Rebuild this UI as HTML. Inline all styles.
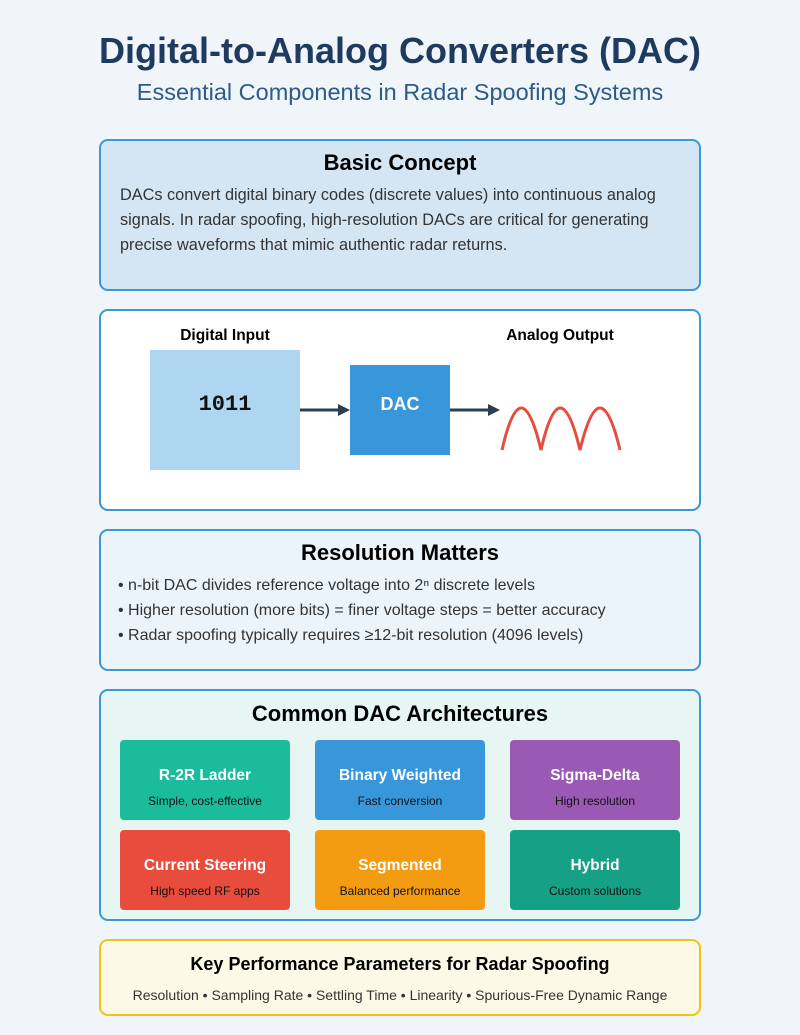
<!DOCTYPE html>
<html><head><meta charset="utf-8"><style>body{margin:0;background:#f0f5fa}svg{display:block}</style></head><body>
<svg width="800" height="1035" xmlns="http://www.w3.org/2000/svg" font-family="Liberation Sans, sans-serif">
<rect width="800" height="1035" fill="#f0f5fa"/>
<text x="400" y="63" text-anchor="middle" font-size="36" font-weight="bold" fill="#1e3a5f">Digital-to-Analog Converters (DAC)</text>
<text x="400" y="100" text-anchor="middle" font-size="23.5" fill="#2c5a8c">Essential Components in Radar Spoofing Systems</text>

<rect x="100" y="140" width="600" height="150" rx="8" fill="#d4e6f3" stroke="#3a97d8" stroke-width="2"/>
<text x="400" y="170" text-anchor="middle" font-size="22" font-weight="bold" fill="#000">Basic Concept</text>
<text font-size="16.3" fill="#333"><tspan x="120" y="200">DACs convert digital binary codes (discrete values) into continuous analog</tspan><tspan x="120" y="225">signals. In radar spoofing, high-resolution DACs are critical for generating</tspan><tspan x="120" y="250">precise waveforms that mimic authentic radar returns.</tspan></text>

<rect x="100" y="310" width="600" height="200" rx="8" fill="#fff" stroke="#3a97d8" stroke-width="2"/>
<text x="225" y="340" text-anchor="middle" font-size="15.5" font-weight="bold">Digital Input</text>
<text x="560" y="340" text-anchor="middle" font-size="15.5" font-weight="bold">Analog Output</text>
<rect x="150" y="350" width="150" height="120" fill="#aed6f1"/>
<text x="225" y="410" text-anchor="middle" font-size="22" font-weight="bold" font-family="Liberation Mono, monospace" fill="#111">1011</text>
<rect x="350" y="365" width="100" height="90" fill="#3897db"/>
<text x="400" y="410" text-anchor="middle" font-size="18" font-weight="bold" fill="#fff">DAC</text>
<line x1="300" y1="410" x2="340" y2="410" stroke="#2c3e50" stroke-width="3"/>
<polygon points="338,404 350,410 338,416" fill="#2c3e50"/>
<line x1="450" y1="410" x2="490" y2="410" stroke="#2c3e50" stroke-width="3"/>
<polygon points="488,404 500,410 488,416" fill="#2c3e50"/>
<path d="M502,450 Q521,366 541,450 Q560,366 580,450 Q600,366 620,450" fill="none" stroke="#e74c3c" stroke-width="3"/>

<rect x="100" y="530" width="600" height="140" rx="8" fill="#ebf4fb" stroke="#3a97d8" stroke-width="2"/>
<text x="400" y="560" text-anchor="middle" font-size="22" font-weight="bold">Resolution Matters</text>
<text font-size="16" fill="#333"><tspan x="118" y="590">• n-bit DAC divides reference voltage into 2ⁿ discrete levels</tspan><tspan x="118" y="615">• Higher resolution (more bits) = finer voltage steps = better accuracy</tspan><tspan x="118" y="640">• Radar spoofing typically requires ≥12-bit resolution (4096 levels)</tspan></text>

<rect x="100" y="690" width="600" height="230" rx="8" fill="#e8f6f3" stroke="#3a97d8" stroke-width="2"/>
<text x="400" y="721" text-anchor="middle" font-size="22" font-weight="bold">Common DAC Architectures</text>
<g font-size="15.5" font-weight="bold" text-anchor="middle">
<rect x="120" y="740" width="170" height="80" rx="4" fill="#1abc9c"/><text x="205" y="780" fill="#fff">R-2R Ladder</text>
<rect x="315" y="740" width="170" height="80" rx="4" fill="#3897db"/><text x="400" y="780" fill="#fff">Binary Weighted</text>
<rect x="510" y="740" width="170" height="80" rx="4" fill="#9b59b6"/><text x="595" y="780" fill="#fff">Sigma-Delta</text>
<rect x="120" y="830" width="170" height="80" rx="4" fill="#e74c3c"/><text x="205" y="870" fill="#fff">Current Steering</text>
<rect x="315" y="830" width="170" height="80" rx="4" fill="#f39c12"/><text x="400" y="870" fill="#fff">Segmented</text>
<rect x="510" y="830" width="170" height="80" rx="4" fill="#16a085"/><text x="595" y="870" fill="#fff">Hybrid</text>
</g>
<g font-size="12" text-anchor="middle" fill="#111">
<text x="205" y="805">Simple, cost-effective</text><text x="400" y="805">Fast conversion</text><text x="595" y="805">High resolution</text>
<text x="205" y="895">High speed RF apps</text><text x="400" y="895">Balanced performance</text><text x="595" y="895">Custom solutions</text>
</g>

<rect x="100" y="940" width="600" height="75" rx="8" fill="#fef8e6" stroke="#f1c40f" stroke-width="2"/>
<text x="400" y="970" text-anchor="middle" font-size="18" font-weight="bold">Key Performance Parameters for Radar Spoofing</text>
<text x="400" y="1000" text-anchor="middle" font-size="14" fill="#333">Resolution • Sampling Rate • Settling Time • Linearity • Spurious-Free Dynamic Range</text>
</svg>
</body></html>
